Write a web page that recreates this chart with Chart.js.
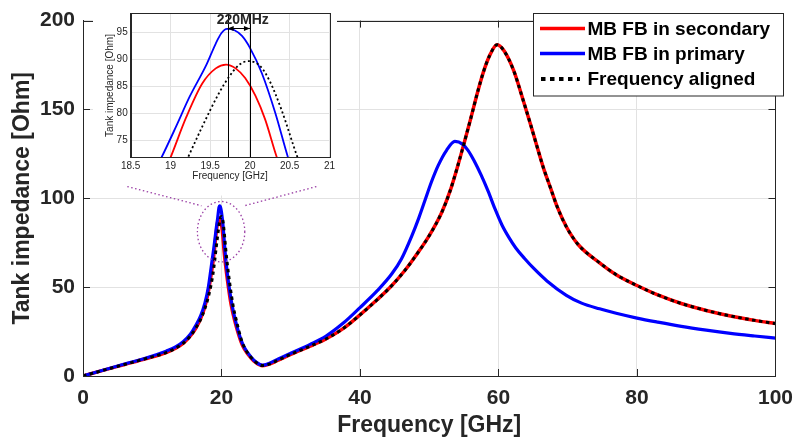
<!DOCTYPE html>
<html>
<head>
<meta charset="utf-8">
<script src="https://cdn.jsdelivr.net/npm/chart.js@4.4.1/dist/chart.umd.min.js"></script>
<style>
    html, body { margin: 0; padding: 0; background: #fff; }
    #wrap { position: relative; width: 803px; height: 440px; }
    #main { position: absolute; left: 0; top: 0; }
    #inset { position: absolute; left: 93px; top: 0; }
</style>
</head>
<body>
<div id="wrap">
    <canvas id="main" width="803" height="440"></canvas>
    <canvas id="inset" width="245" height="240"></canvas>
</div>
<script>
// values: frequency [GHz] and tank impedance [Ohm]
const secondaryFreq = [0, 3, 6, 9, 12, 13.3, 14.5, 15.5, 16.3, 17, 17.6, 18.1, 18.5, 18.8, 19.0, 19.2, 19.4, 19.57, 19.7, 19.82, 19.94, 20.07, 20.19, 20.34, 20.6, 21.0, 21.4, 21.85, 22.8, 23.3, 24.2, 25, 25.9, 27, 28, 30, 32.8, 35, 37.5, 40, 42.5, 44.6, 46.5, 48, 50, 51.8, 53, 54.1, 55.1, 56, 57, 57.9, 58.8, 59.8, 60.8, 62.2, 63.5, 64.6, 65.5, 66.5, 67.5, 68.5, 69.8, 71.5, 74.6, 77, 80, 83, 86.4, 90, 93.5, 97, 100];
const secondaryZ    = [0, 3.3, 6.5, 9.7, 13.2, 15.5, 18.5, 22.5, 27, 32.5, 39, 47.5, 57, 65, 71.85, 79.4, 85.6, 88.4, 89.1, 88.4, 86.6, 83.3, 79, 71.85, 62, 50, 40, 32, 19.5, 15.2, 10.4, 7.4, 5.8, 6.8, 8.6, 12.2, 16.8, 20.7, 26.5, 34.4, 43, 50.9, 59.5, 67.4, 79, 92, 104, 118, 132, 145, 160, 172, 181, 186.4, 183, 171.8, 156, 142, 130, 117, 106, 95, 84, 74, 63.7, 57, 50.9, 45.6, 40.8, 36.9, 33.8, 31.3, 29.5];

const primaryFreq = [0, 3, 6, 9, 12, 13.3, 14.5, 15.5, 16.3, 17, 17.6, 18.1, 18.5, 18.886, 19.07, 19.24, 19.45, 19.57, 19.64, 19.71, 19.8, 19.9, 20.0, 20.15, 20.32, 20.48, 20.7, 21.1, 21.5, 21.9, 22.8, 23.3, 24.2, 25, 25.9, 27, 28, 30, 32.8, 35.1, 37.5, 40, 42.5, 44.6, 46, 47.5, 48.5, 49.4, 50.3, 51.3, 52.5, 53.7, 54.8, 55.6, 56.5, 57.5, 58.5, 59.5, 60.5, 61.5, 62.5, 63.8, 65.1, 67, 69.8, 72, 74.6, 77, 80, 83, 86.4, 90, 93.5, 97, 100];
const primaryZ    = [0, 3.4, 6.8, 10, 14, 16.2, 19.5, 23.5, 28.5, 34, 41, 50, 61, 71.85, 77.6, 83.1, 89.0, 93.0, 94.9, 95.7, 95.5, 94.4, 92.2, 87.5, 80.1, 71.85, 62.5, 50, 40.5, 33, 20.5, 16, 11, 7.8, 6.1, 7.3, 9.2, 12.8, 17.8, 22.5, 29.5, 38.5, 48, 57.5, 66, 79, 89, 99, 109, 118.5, 127, 132, 130.5, 127, 121, 113, 104, 94, 85, 78, 72, 66, 60.5, 53.5, 45.4, 41, 37.8, 35.3, 32.6, 30.3, 27.9, 25.8, 24, 22.5, 21.3];

const alignedFreq = [0, 3, 6, 9, 12, 13.3, 14.5, 15.5, 16.3, 17, 17.6, 18.1, 18.5, 18.75, 19.05, 19.22, 19.4, 19.61, 19.74, 19.86, 19.98, 20.13, 20.25, 20.4, 20.6, 20.9, 21.3, 21.7, 22.1, 22.9, 23.4, 24.2, 25, 25.9, 27, 28, 30, 32.8, 35, 37.5, 40, 42.5, 44.6, 46.5, 48, 50, 51.8, 53, 54.1, 55.1, 56, 57, 57.9, 58.8, 59.8, 60.8, 62.2, 63.5, 64.6, 65.5, 66.5, 67.5, 68.5, 69.8, 71.5, 74.6, 77, 80, 83, 86.4, 90, 93.5, 97, 100];
const alignedZ    = [0, 3.3, 6.5, 9.7, 13.2, 15.5, 18.5, 22.5, 27, 32, 38, 44.5, 51.5, 57, 66, 71.85, 77.6, 83.8, 86.9, 89.0, 89.75, 88.8, 86.0, 80.6, 71.85, 61, 49, 39, 32, 20, 15.5, 10.8, 7.6, 5.9, 6.8, 8.6, 12.2, 16.8, 20.7, 26.5, 34.4, 43, 50.9, 59.5, 67.4, 79, 92, 104, 118, 132, 145, 160, 172, 181, 186.4, 183, 171.8, 156, 142, 130, 117, 106, 95, 84, 74, 63.7, 57, 50.9, 45.6, 40.8, 36.9, 33.8, 31.3, 29.5];

const seriesLabels = ['MB FB in secondary', 'MB FB in primary', 'Frequency aligned'];

const mainXTicks = [0, 20, 40, 60, 80, 100];
const mainYTicks = [0, 50, 100, 150, 200];
const insetXTicks = [18.5, 19, 19.5, 20, 20.5, 21];
const insetYTicks = [75, 80, 85, 90, 95];
const insetXRange = [18.5, 21];
const insetYRange = [71.85, 98.6];

// inset annotations: resonance markers and the 220 MHz shift
const markerFreqs = [19.72, 20.0];
const markerArrowZ = 95.8;
const markerLabel = '220MHz';
const markerLabelAt = [19.91, 97.3];

// zoom ellipse (centre GHz, centre Ohm, radius GHz, radius Ohm) and its leader lines
const zoomEllipse = [19.94, 81.2, 3.42, 17];
const zoomLinks = [[6.4, 106.6, 17.1, 95.8], [33.7, 106.6, 23.3, 95.8]];

const FONT = '"Liberation Sans", Arial, sans-serif';
const AXIS = '#262626';
const GRID = '#e2e2e2';
const PURPLE = '#9a3fa5';
const COLORS = ['#ff0000', '#0000ff', '#000000'];

Chart.defaults.font.family = FONT;
Chart.defaults.color = AXIS;

const toXY = (xs, ys) => xs.map((x, i) => ({ x: x, y: ys[i] }));

const _datasets = (widths, dash) => [
    { label: seriesLabels[0], data: toXY(secondaryFreq, secondaryZ), borderColor: COLORS[0], borderWidth: widths[0], order: 2 },
    { label: seriesLabels[1], data: toXY(primaryFreq, primaryZ), borderColor: COLORS[1], borderWidth: widths[1], order: 1 },
    { label: seriesLabels[2], data: toXY(alignedFreq, alignedZ), borderColor: COLORS[2], borderWidth: widths[2], borderDash: dash, order: 0 },
].map(ds => Object.assign(ds, {
    pointRadius: 0,
    fill: false,
    cubicInterpolationMode: 'monotone',
}));

const _setTicks = values => scale => {
    scale.ticks = values.map(v => ({ value: v }));
};

const _dashedPath = (ctx, dash, width, color, draw) => {
    ctx.save();
    ctx.strokeStyle = color;
    ctx.lineWidth = width;
    ctx.setLineDash(dash);
    ctx.beginPath();
    draw();
    ctx.stroke();
    ctx.restore();
};

const mainDecor = {
    id: 'mainDecor',
    afterDatasetsDraw(chart) {
        const { ctx, scales: { x, y } } = chart;
        const cx = x.getPixelForValue(zoomEllipse[0]);
        const cy = y.getPixelForValue(zoomEllipse[1]);
        const rx = x.getPixelForValue(zoomEllipse[0] + zoomEllipse[2]) - cx;
        const ry = cy - y.getPixelForValue(zoomEllipse[1] + zoomEllipse[3]);
        _dashedPath(ctx, [1.5, 2.5], 1.3, PURPLE, () => {
            ctx.ellipse(cx, cy, rx, ry, 0, 0, Math.PI * 2);
        });
    },
    afterDraw(chart) {
        const { ctx, chartArea: a, scales: { x, y } } = chart;
        ctx.save();
        ctx.strokeStyle = AXIS;
        ctx.lineWidth = 1;
        ctx.strokeRect(Math.round(a.left) + 0.5, Math.round(a.top) + 0.5,
            Math.round(a.right - a.left), Math.round(a.bottom - a.top));
        // inward tick marks, MATLAB style
        ctx.beginPath();
        mainXTicks.forEach(v => {
            const px = Math.round(x.getPixelForValue(v)) + 0.5;
            ctx.moveTo(px, a.bottom); ctx.lineTo(px, a.bottom - 7);
            ctx.moveTo(px, a.top); ctx.lineTo(px, a.top + 7);
        });
        mainYTicks.forEach(v => {
            const py = Math.round(y.getPixelForValue(v)) + 0.5;
            ctx.moveTo(a.left, py); ctx.lineTo(a.left + 7, py);
            ctx.moveTo(a.right, py); ctx.lineTo(a.right - 7, py);
        });
        ctx.stroke();

        // legend box, top right
        const bx = 533.5, by = 13.5, bw = 250, bh = 82.5;
        ctx.fillStyle = '#ffffff';
        ctx.fillRect(bx, by, bw, bh);
        ctx.strokeRect(bx, by, bw, bh);
        const rows = [28.5, 53.5, 79];
        ctx.font = 'bold 19px ' + FONT;
        ctx.textBaseline = 'middle';
        ctx.textAlign = 'left';
        chart.data.datasets.forEach((ds, i) => {
            ctx.save();
            ctx.strokeStyle = ds.borderColor;
            ctx.lineWidth = i === 2 ? 4 : 3.5;
            ctx.setLineDash(i === 2 ? [4.5, 4.5] : []);
            ctx.beginPath();
            ctx.moveTo(i === 2 ? 541 : 540, rows[i]);
            ctx.lineTo(i === 2 ? 580 : 585, rows[i]);
            ctx.stroke();
            ctx.restore();
            ctx.fillStyle = '#000000';
            ctx.fillText(ds.label, 587.5, rows[i] + 1);
        });
        ctx.restore();
    }
};

const mainChart = new Chart(document.getElementById('main'), {
    type: 'line',
    data: { datasets: _datasets([3.5, 3.2, 3], [3.5, 3.5]) },
    options: {
        responsive: false,
        devicePixelRatio: 1,
        animation: false,
        events: [],
        layout: { padding: { left: 0, right: 18, top: 12, bottom: 0 } },
        plugins: { legend: { display: false }, tooltip: { enabled: false } },
        scales: {
            x: {
                type: 'linear',
                min: 0,
                max: 100,
                afterBuildTicks: _setTicks(mainXTicks),
                afterFit: scale => { scale.height = 64; },
                grid: { color: GRID, drawTicks: false },
                border: { color: AXIS, width: 1 },
                ticks: {
                    padding: 10,
                    maxRotation: 0,
                    color: AXIS,
                    font: { size: 21, weight: 'bold' },
                    callback: v => String(v),
                },
                title: {
                    display: true,
                    text: 'Frequency [GHz]',
                    color: AXIS,
                    font: { size: 23, weight: 'bold' },
                    padding: { top: 0, bottom: 1 },
                },
            },
            y: {
                type: 'linear',
                min: 0,
                max: 200,
                afterBuildTicks: _setTicks(mainYTicks),
                afterFit: scale => { scale.width = 83; },
                grid: { color: GRID, drawTicks: false },
                border: { color: AXIS, width: 1 },
                ticks: {
                    padding: 8,
                    color: AXIS,
                    font: { size: 21, weight: 'bold' },
                    callback: v => String(v),
                },
                title: {
                    display: true,
                    text: 'Tank impedance [Ohm]',
                    color: AXIS,
                    font: { size: 23, weight: 'bold' },
                    padding: { top: 9, bottom: 0 },
                },
            }
        }
    },
    plugins: [mainDecor]
});

const insetDecor = {
    id: 'insetDecor',
    beforeDraw(chart) {
        const { ctx } = chart;
        ctx.save();
        ctx.fillStyle = '#ffffff';
        ctx.fillRect(0, 14, 244, 181.5);
        ctx.restore();
    },
    afterDatasetsDraw(chart) {
        const { ctx, chartArea: a, scales: { x, y } } = chart;
        ctx.save();
        ctx.strokeStyle = '#000000';
        ctx.lineWidth = 1;
        ctx.beginPath();
        markerFreqs.forEach(f => {
            const px = Math.round(x.getPixelForValue(f)) + 0.5;
            ctx.moveTo(px, a.top);
            ctx.lineTo(px, a.bottom);
        });
        // double arrow between the two resonances
        const x0 = x.getPixelForValue(markerFreqs[0]);
        const x1 = x.getPixelForValue(markerFreqs[1]);
        const ay = Math.round(y.getPixelForValue(markerArrowZ)) + 0.5;
        ctx.moveTo(x0, ay);
        ctx.lineTo(x1, ay);
        ctx.stroke();
        ctx.fillStyle = '#000000';
        ctx.beginPath();
        ctx.moveTo(x0, ay); ctx.lineTo(x0 + 6, ay - 2.5); ctx.lineTo(x0 + 6, ay + 2.5); ctx.closePath();
        ctx.moveTo(x1, ay); ctx.lineTo(x1 - 6, ay - 2.5); ctx.lineTo(x1 - 6, ay + 2.5); ctx.closePath();
        ctx.fill();
        ctx.fillStyle = AXIS;
        ctx.font = 'bold 14px ' + FONT;
        ctx.textAlign = 'center';
        ctx.textBaseline = 'middle';
        ctx.fillText(markerLabel, x.getPixelForValue(markerLabelAt[0]), y.getPixelForValue(markerLabelAt[1]));
        ctx.restore();
    },
    afterDraw(chart) {
        const { ctx, chartArea: a } = chart;
        const canvas = chart.canvas;
        ctx.save();
        ctx.strokeStyle = AXIS;
        ctx.lineWidth = 1;
        ctx.strokeRect(Math.round(a.left) + 0.5, Math.round(a.top) + 0.5,
            Math.round(a.right - a.left), Math.round(a.bottom - a.top));
        ctx.restore();
        // leader lines from the inset down to the zoomed peak, in main-chart units
        const mx = mainChart.scales.x, my = mainChart.scales.y;
        const offX = canvas.offsetLeft, offY = canvas.offsetTop;
        _dashedPath(ctx, [1.5, 2.5], 1.3, PURPLE, () => {
            zoomLinks.forEach(l => {
                ctx.moveTo(mx.getPixelForValue(l[0]) - offX, my.getPixelForValue(l[1]) - offY);
                ctx.lineTo(mx.getPixelForValue(l[2]) - offX, my.getPixelForValue(l[3]) - offY);
            });
        });
    }
};

new Chart(document.getElementById('inset'), {
    type: 'line',
    data: { datasets: _datasets([1.8, 1.8, 1.8], [2, 2.6]) },
    options: {
        responsive: false,
        devicePixelRatio: 1,
        animation: false,
        events: [],
        layout: { padding: { left: 0, right: 6.3, top: 13.3, bottom: 0 } },
        plugins: { legend: { display: false }, tooltip: { enabled: false } },
        scales: {
            x: {
                type: 'linear',
                min: insetXRange[0],
                max: insetXRange[1],
                afterBuildTicks: _setTicks(insetXTicks),
                afterFit: scale => { scale.height = 82.3; },
                grid: { color: GRID, drawTicks: false },
                border: { color: AXIS, width: 1 },
                ticks: {
                    padding: 3,
                    maxRotation: 0,
                    color: AXIS,
                    font: { size: 10 },
                    callback: v => String(v),
                },
                title: {
                    display: true,
                    text: 'Frequency [GHz]',
                    color: AXIS,
                    font: { size: 10 },
                    padding: { top: 0, bottom: 57.3 },
                },
            },
            y: {
                type: 'linear',
                min: insetYRange[0],
                max: insetYRange[1],
                afterBuildTicks: _setTicks(insetYTicks),
                afterFit: scale => { scale.width = 37.7; },
                grid: { color: GRID, drawTicks: false },
                border: { color: AXIS, width: 1 },
                ticks: {
                    padding: 3,
                    color: AXIS,
                    font: { size: 10 },
                    callback: v => String(v),
                },
                title: {
                    display: true,
                    text: 'Tank impedance [Ohm]',
                    color: AXIS,
                    font: { size: 10 },
                    padding: { top: 11.7, bottom: 0 },
                },
            }
        }
    },
    plugins: [insetDecor]
});
</script>
</body>
</html>
